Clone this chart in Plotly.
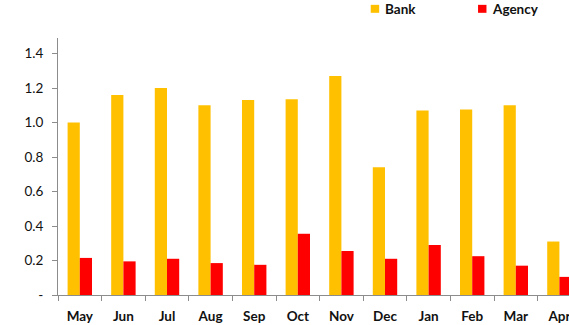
import plotly.graph_objects as go

# Monthly ratios by channel
months = ["May", "Jun", "Jul", "Aug", "Sep", "Oct", "Nov", "Dec", "Jan", "Feb", "Mar", "Apr"]
bank = [1.00, 1.16, 1.20, 1.10, 1.13, 1.135, 1.27, 0.74, 1.07, 1.075, 1.10, 0.31]
agency = [0.215, 0.195, 0.21, 0.185, 0.175, 0.355, 0.255, 0.21, 0.29, 0.225, 0.17, 0.105]

y_ticks = [0, 0.2, 0.4, 0.6, 0.8, 1.0, 1.2, 1.4]
y_tick_text = ["-", "0.2", "0.4", "0.6", "0.8", "1.0", "1.2", "1.4"]

BANK_COLOR = "#FFC000"
AGENCY_COLOR = "#FF0000"
AXIS_COLOR = "#8C8C8C"
FONT = "Lato, 'Open Sans', sans-serif"

fig = go.Figure()
fig.add_trace(go.Bar(x=months, y=bank, name="Bank", marker_color=BANK_COLOR,
                     marker_line_width=0, showlegend=False))
fig.add_trace(go.Bar(x=months, y=agency, name="Agency", marker_color=AGENCY_COLOR,
                     marker_line_width=0, showlegend=False))

# Hand-built legend row above the plot
legend_items = [("Bank", BANK_COLOR, 0.612), ("Agency", AGENCY_COLOR, 0.822)]
for label, color, x0 in legend_items:
    fig.add_shape(type="rect", xref="paper", yref="paper",
                  x0=x0, x1=x0 + 0.0165, y0=1.098, y1=1.129,
                  fillcolor=color, line_width=0)
    fig.add_annotation(text=f"<b>{label}</b>", xref="paper", yref="paper",
                       x=x0 + 0.024, y=1.113, xanchor="left", yanchor="middle",
                       showarrow=False, font=dict(family=FONT, size=13.5, color="#111111"))

fig.update_layout(
    width=569, height=325,
    margin=dict(l=58, r=0, t=38, b=30),
    paper_bgcolor="white", plot_bgcolor="white",
    barmode="group", bargap=0.44, bargroupgap=0,
    font=dict(family=FONT, size=13, color="#111111"),
)
fig.update_xaxes(
    type="category", range=[-0.5, 11.22],
    showline=True, linecolor=AXIS_COLOR, linewidth=1,
    ticks="outside", tickson="boundaries", ticklen=5, tickcolor=AXIS_COLOR,
    ticklabelstandoff=9,
    tickfont=dict(family=FONT, size=13.5, color="#111111", weight="bold"),
    showgrid=False, zeroline=False,
)
fig.update_yaxes(
    range=[0, 1.49],
    tickvals=y_ticks, ticktext=y_tick_text,
    showline=True, linecolor=AXIS_COLOR, linewidth=1,
    ticks="outside", ticklen=5, tickcolor=AXIS_COLOR,
    ticklabelstandoff=6,
    tickfont=dict(family=FONT, size=13.5, color="#111111"),
    showgrid=False, zeroline=False,
)

fig.write_html("out.html")
